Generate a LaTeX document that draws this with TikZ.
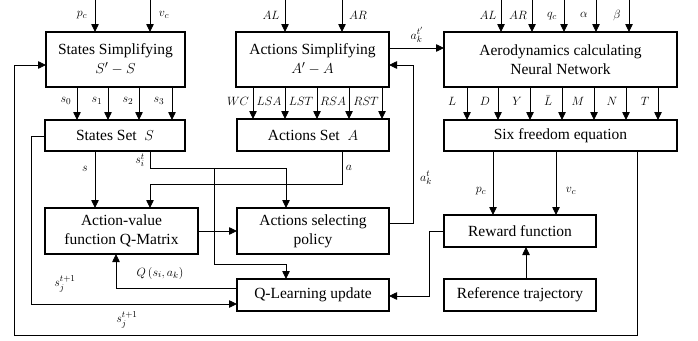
\documentclass[tikz,border=0pt]{standalone}
\usepackage{fontspec}
\setmainfont{Liberation Serif}
\usetikzlibrary{arrows.meta}
\begin{document}
\begin{tikzpicture}[x=1pt,y=-1pt,
  box/.style={draw,line width=1.5pt,inner sep=0pt,outer sep=0pt,align=center,font=\fontsize{15.5}{19}\selectfont},
  arr/.style={line width=0.8pt,-{Triangle[length=8pt,width=7.5pt]}},
  ln/.style={line width=0.8pt},
  lab/.style={inner sep=0pt,font=\fontsize{12.5}{14}\selectfont}]
\useasboundingbox (0,0) rectangle (698,340);
% boxes
\node[box,minimum width=139pt,minimum height=55pt] (ss) at (115.5,59.5) {States Simplifying\\$S'-S$};
\node[box,minimum width=140pt,minimum height=31pt] (sset) at (115,135.5) {States Set\ \ $S$};
\node[box,minimum width=153pt,minimum height=55pt] (as) at (312.5,59.5) {Actions Simplifying\\$A'-A$};
\node[box,minimum width=152pt,minimum height=32pt] (aset) at (313,135) {Actions Set\ \ $A$};
\node[box,minimum width=233pt,minimum height=55pt] (aero) at (560.5,59.5) {Aerodynamics calculating\\Neural Network};
\node[box,minimum width=233pt,minimum height=31pt] (six) at (560.5,135.5) {Six freedom equation};
\node[box,minimum width=153pt,minimum height=46pt] (qm) at (121.5,231) {Action-value\\function Q-Matrix};
\node[box,minimum width=152pt,minimum height=46pt] (asp) at (313,231) {Actions selecting\\policy};
\node[box,minimum width=152pt,minimum height=32pt] (ql) at (313,295) {Q-Learning update};
\node[box,minimum width=152pt,minimum height=32pt] (rf) at (520,231) {Reward function};
\node[box,minimum width=152pt,minimum height=32pt] (rt) at (520,295) {Reference trajectory};
% top inputs
\foreach \x in {95,150} \draw[arr] (\x,0) -- (\x,0 |- ss.north);
\foreach \x in {285,342} \draw[arr] (\x,0) -- (\x,0 |- as.north);
\foreach \x in {501,532,564,596,629} \draw[arr] (\x,0) -- (\x,0 |- aero.north);
\node[lab] (lpc) at (82,15) {$p_c$};
\node[lab] (lvc) at (164,15) {$v_c$};
\node[lab] (lal) at (271,15) {$AL$};
\node[lab] (lar) at (358,15) {$AR$};
\node[lab] (lal2) at (488,15) {$AL$};
\node[lab] (lar2) at (518,15) {$AR$};
\node[lab] (lqc) at (552,16) {$q_c$};
\node[lab] (lalpha) at (584,15) {$\alpha$};
\node[lab] (lbeta) at (617,15) {$\beta$};
% s0..s3
\foreach \x in {77,108,139,172} \draw[arr] (\x,0 |- ss.south) -- (\x,0 |- sset.north);
\node[lab] at (66,101) {$s_0$};
\node[lab] at (97,101) {$s_1$};
\node[lab] at (128,101) {$s_2$};
\node[lab] at (159,101) {$s_3$};
% actions
\foreach \x in {253,285,317,349,382} \draw[arr] (\x,0 |- as.south) -- (\x,0 |- aset.north);
\node[lab] at (238,101) {$WC$};
\node[lab] at (269,101) {$LSA$};
\node[lab] at (301,101) {$LST$};
\node[lab] at (333,101) {$RSA$};
\node[lab] at (366,101) {$RST$};
% aero outputs
\foreach \x in {467,498,530,562,594,626,658} \draw[arr] (\x,0 |- aero.south) -- (\x,0 |- six.north);
\node[lab] at (452,101) {$L$};
\node[lab] at (485,101) {$D$};
\node[lab] at (517,101) {$Y$};
\node[lab] at (548,101) {$\bar{L}$};
\node[lab] at (578,101) {$M$};
\node[lab] at (612,101) {$N$};
\node[lab] at (645,101) {$T$};
% actions simplifying -> aero
\draw[arr] (as.east |- 0,48) -- (aero.west |- 0,48);
\node[lab] at (417,35) {$a_k^{t'}$};
% six -> reward
\draw[arr] (493,0 |- six.south) -- (493,0 |- rf.north);
\draw[arr] (556,0 |- six.south) -- (556,0 |- rf.north);
\node[lab] at (481,191) {$p_c$};
\node[lab] at (571,191) {$v_c$};
% reference -> reward
\draw[arr] (526,0 |- rt.north) -- (526,0 |- rf.south);
% big loop
\draw[arr] (637,0 |- six.south) -- (637,335) -- (14,335) -- (14,65) -- (ss.west |- 0,65);
\node[lab] at (127,320) {$s_j^{t+1}$};
% states set left -> Q-learning
\draw[arr] (sset.west |- 0,136) -- (31,136) -- (31,304) -- (ql.west |- 0,304);
\node[lab] at (65,284) {$s_j^{t+1}$};
% s
\draw[arr] (95,0 |- sset.south) -- (95,0 |- qm.north);
\node[lab] at (85,169) {$s$};
% s_i^t
\draw[arr] (150,0 |- sset.south) -- (150,168) -- (286,168) -- (286,0 |- asp.north);
\draw[arr] (214,168) -- (214,264) -- (286,264) -- (286,0 |- ql.north);
\node[lab] at (140,160) {$s_i^t$};
% a
\draw[arr] (342,0 |- aset.south) -- (342,184) -- (150,184) -- (150,0 |- qm.north);
\node[lab] at (349,168) {$a$};
% qm -> asp
\draw[arr] (qm.east |- 0,231) -- (asp.west |- 0,231);
% asp -> actions simplifying
\draw[arr] (asp.east |- 0,223) -- (413,223) -- (413,65) -- (as.east |- 0,65);
\node[lab] at (426,178) {$a_k^t$};
% Q update -> Q matrix
\draw[arr] (ql.west |- 0,288) -- (116,288) -- (116,0 |- qm.south);
\node[lab] at (160,273) {$Q\left(s_i,a_k\right)$};
% reward -> Q-learning
\draw[arr] (rf.west |- 0,231) -- (429,231) -- (429,296) -- (ql.east |- 0,296);
\end{tikzpicture}
\end{document}
